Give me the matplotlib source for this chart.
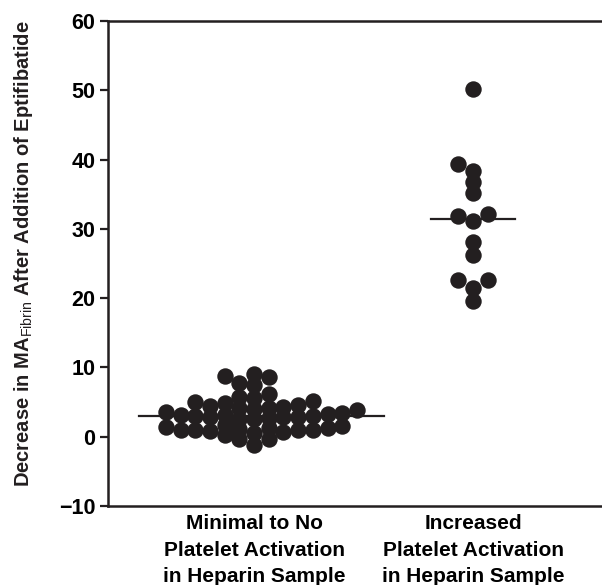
import numpy as np
import matplotlib
matplotlib.use("Agg")
import matplotlib.pyplot as plt

plt.rcParams['font.family'] = ['Liberation Sans', 'DejaVu Sans']
plt.rcParams['mathtext.fontset'] = 'custom'
plt.rcParams['mathtext.rm'] = 'Liberation Sans'

# category labels
groups = ['Minimal to No\nPlatelet Activation\nin Heparin Sample',
          'Increased\nPlatelet Activation\nin Heparin Sample']

# decrease in MA (fibrin) after eptifibatide
minimal = [8.7, 8.6, 9.1, 7.4, 7.8, 6.1,
           5.6, 5.0, 4.6, 4.3, 4.1, 3.9, 4.0, 4.2, 4.5, 4.8, 5.2, 5.8,
           3.4, 3.2, 3.0, 2.9, 2.8, 2.7, 2.6, 2.8, 3.0, 3.1, 3.3, 3.5, 2.5,
           1.6, 1.3, 1.1, 0.9, 0.8, 0.7, 0.9, 1.0, 1.2, 1.4, 1.7, 1.0, 0.6,
           0.2, -0.4, -0.3, -1.2]
increased = [50.2, 39.3, 38.4, 36.7, 35.2, 32.2, 31.8, 31.1,
             28.1, 26.2, 22.6, 22.6, 21.4, 19.6]

ink = '#231f20'


def swarm(values, y_scale, step=14.7, dmin=10.0):
    """Spread close values sideways in fixed slots (pixels).
    A slot only has to keep dmin of vertical room to points already in it."""
    vals = np.asarray(values, dtype=float)
    offs = np.zeros(len(vals))
    cols = {}
    for i in np.argsort(vals, kind='stable'):
        y = vals[i] * y_scale
        k = 0
        while True:
            if k == 0:
                cands = [0]
            else:
                nl = sum(len(v) for s, v in cols.items() if s < 0)
                nr = sum(len(v) for s, v in cols.items() if s > 0)
                cands = [-k, k] if nl <= nr else [k, -k]
            slot = None
            for s in cands:
                if all(abs(y - py) >= dmin for py in cols.get(s, [])):
                    slot = s
                    break
            if slot is not None:
                cols.setdefault(slot, []).append(y)
                offs[i] = slot * step
                break
            k += 1
    return offs


fig = plt.figure(figsize=(6.02, 5.85), dpi=100)
ax = fig.add_axes([108 / 602, 1 - 506 / 585, 494 / 602, 485 / 585])
ax.set_ylim(-10, 60)
ax.set_xlim(-0.667, 1.589)

ypx = ax.bbox.height / 70.0
xpx = ax.bbox.width / (1.589 + 0.667)

for pos, vals in enumerate([minimal, increased]):
    offs = swarm(vals, ypx)
    ax.scatter(pos + offs / xpx, vals, s=140, color=ink, linewidths=0, zorder=3)
    # median bar reaches a bit past the outermost points on each side
    x0 = pos + (offs.min() - 27) / xpx
    x1 = pos + (offs.max() + 27) / xpx
    med = np.median(vals)
    ax.plot([x0, x1], [med, med], color=ink, lw=1.6, zorder=2)

ax.set_yticks(range(-10, 61, 10))
ax.set_xticks([0, 1])
ax.set_xticklabels(groups, fontsize=15, fontweight='bold', linespacing=1.5)
ax.tick_params(axis='x', length=0, pad=6)
ax.tick_params(axis='y', length=6, width=1.6, color=ink, pad=3, labelsize=15.5)
for lab in ax.get_yticklabels():
    lab.set_fontweight('bold')

for side in ['left', 'top', 'bottom']:
    ax.spines[side].set_linewidth(1.8)
    ax.spines[side].set_color(ink)
ax.spines['right'].set_visible(False)

ax.set_ylabel(r'Decrease in MA$_{\mathrm{Fibrin}}$ After Addition of Eptifibatide',
              fontsize=14.5, fontweight='bold', color=ink)
ax.yaxis.set_label_coords(-0.148, 0.52)

fig.savefig('out.png', dpi=100)
